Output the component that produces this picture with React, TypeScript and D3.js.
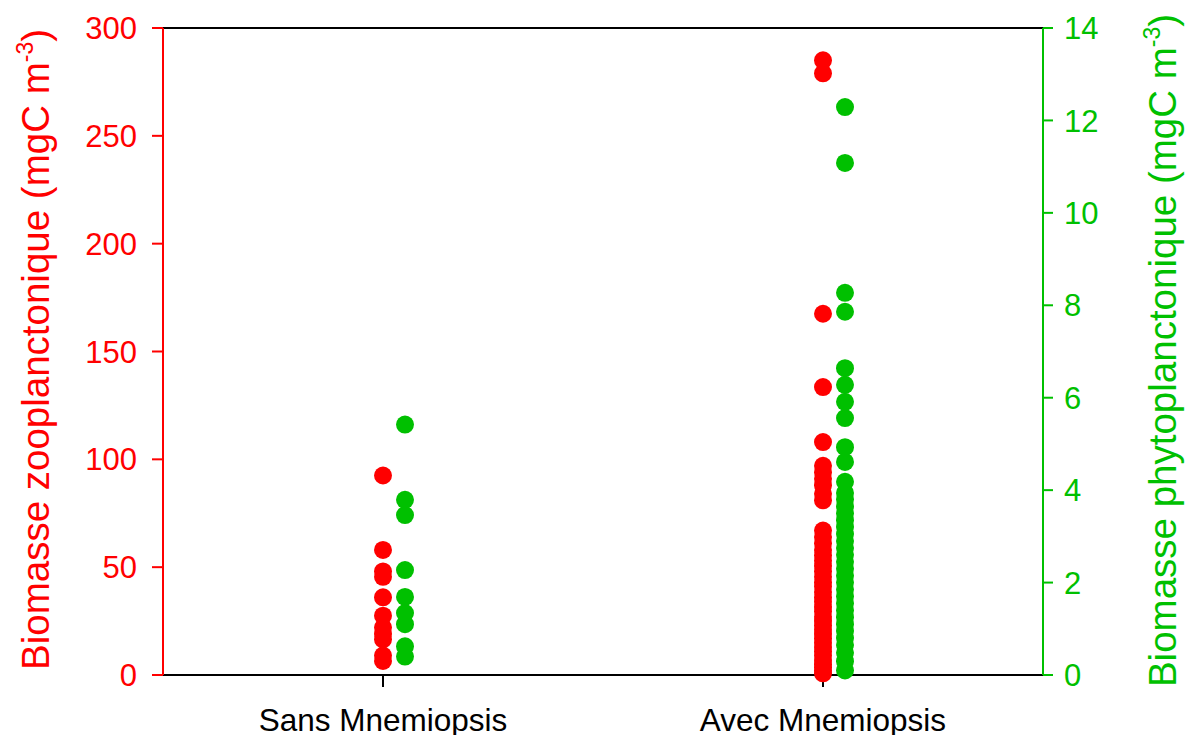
import React from "react";
import * as d3 from "d3";

const categories = ["Sans Mnemiopsis", "Avec Mnemiopsis"];
const zooTicks = [0, 50, 100, 150, 200, 250, 300];
const phytoTicks = [0, 2, 4, 6, 8, 10, 12, 14];

const sansZoo = [92.5, 58, 48, 45.5, 36, 27.5, 22, 19, 16.5, 9, 6.5];
const sansPhyto = [5.42, 3.79, 3.46, 2.27, 1.69, 1.34, 1.1, 0.62, 0.4];
const avecZoo = [
  285, 279, 167.5, 133.5, 108, 97, 94, 91, 88, 84, 81, 67, 64, 61, 58, 55.5, 53, 50.5, 48, 45.5,
  43, 41, 38.5, 36, 34, 31.5, 29.5, 27, 25, 23, 21, 19, 17, 15, 13, 11, 9, 7, 5, 3.5, 2, 0.8,
];
const avecPhyto = [
  12.29, 11.08, 8.27, 7.86, 6.64, 6.28, 5.91, 5.56, 4.93, 4.61, 4.18, 3.94, 3.8, 3.65, 3.5, 3.35,
  3.2, 3.05, 2.9, 2.75, 2.6, 2.45, 2.3, 2.15, 2.0, 1.85, 1.7, 1.55, 1.4, 1.25, 1.1, 0.95, 0.8,
  0.65, 0.48, 0.3, 0.1,
];

const RED = "#ff0000";
const GREEN = "#00c000";
const FONT = "'Liberation Sans', Arial, sans-serif";

export default function App() {
  const W = 1188, H = 735;
  const left = 163, right = 1043, top = 28, bottom = 675;
  const x = d3.scaleBand<string>().domain(categories).range([left, right]);
  const yZoo = d3.scaleLinear().domain([0, 300]).range([bottom, top]);
  const yPhy = d3.scaleLinear().domain([0, 14]).range([bottom, top]);
  const cx = (c: string) => (x(c) as number) + x.bandwidth() / 2;
  const phyOffset = 22;
  const r = 9;

  const zooSets = [sansZoo, avecZoo];
  const phySets = [sansPhyto, avecPhyto];

  return (
    <svg width={W} height={H} style={{ position: "absolute", left: 0, top: 0 }} fontFamily={FONT}>
      <rect x={0} y={0} width={W} height={H} fill="#fff" />
      {/* frame */}
      <line x1={left} x2={right} y1={top} y2={top} stroke="#000" strokeWidth={2} />
      <line x1={left} x2={right} y1={bottom} y2={bottom} stroke="#000" strokeWidth={2} />
      {/* left axis */}
      <line x1={left} x2={left} y1={top} y2={bottom} stroke={RED} strokeWidth={2} />
      {zooTicks.map((t) => (
        <g key={"z" + t}>
          <line x1={left - 11} x2={left} y1={yZoo(t)} y2={yZoo(t)} stroke={RED} strokeWidth={2} />
          <text x={137} y={yZoo(t)} dy="0.36em" textAnchor="end" fontSize={31} fill={RED}>
            {t}
          </text>
        </g>
      ))}
      <text
        transform={`translate(49,${(top + bottom) / 2 - 2}) rotate(-90)`}
        textAnchor="middle"
        fontSize={38.5}
        fill={RED}
      >
        Biomasse zooplanctonique (mgC m
        <tspan fontSize={23} dy={-16}>-3</tspan>
        <tspan dy={16}>)</tspan>
      </text>
      {/* right axis */}
      <line x1={right} x2={right} y1={top} y2={bottom} stroke={GREEN} strokeWidth={2} />
      {phytoTicks.map((t) => (
        <g key={"p" + t}>
          <line x1={right} x2={right + 10} y1={yPhy(t)} y2={yPhy(t)} stroke={GREEN} strokeWidth={2} />
          <text x={1064} y={yPhy(t)} dy="0.36em" textAnchor="start" fontSize={31} fill={GREEN}>
            {t}
          </text>
        </g>
      ))}
      <text
        transform={`translate(1176,${(top + bottom) / 2 - 1}) rotate(-90)`}
        textAnchor="middle"
        fontSize={38.5}
        fill={GREEN}
      >
        Biomasse phytoplanctonique (mgC m
        <tspan fontSize={23} dy={-16}>-3</tspan>
        <tspan dy={16}>)</tspan>
      </text>
      {/* x axis ticks */}
      {categories.map((c) => (
        <g key={c}>
          <line x1={cx(c)} x2={cx(c)} y1={bottom} y2={bottom + 12} stroke="#000" strokeWidth={2} />
          <text x={cx(c)} y={731} textAnchor="middle" fontSize={31.5} fill="#000">
            {c}
          </text>
        </g>
      ))}
      {/* points */}
      {categories.map((c, i) => (
        <g key={"pts" + c}>
          {zooSets[i].map((v, j) => (
            <circle key={"zc" + j} cx={cx(c)} cy={yZoo(v)} r={r} fill={RED} />
          ))}
          {phySets[i].map((v, j) => (
            <circle key={"pc" + j} cx={cx(c) + phyOffset} cy={yPhy(v)} r={r} fill={GREEN} />
          ))}
        </g>
      ))}
    </svg>
  );
}
